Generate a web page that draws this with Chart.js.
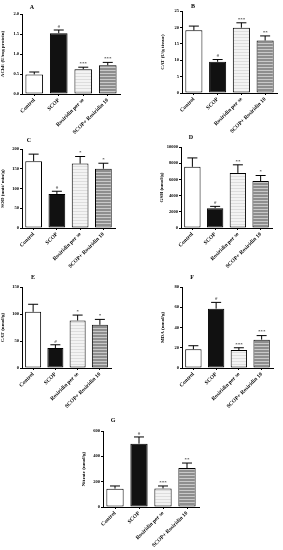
<!DOCTYPE html>
<html>
<head>
<meta charset="utf-8">
<script src="https://cdn.jsdelivr.net/npm/chart.js@4/dist/chart.umd.min.js"></script>
<style>
  html, body { margin: 0; padding: 0; background: #fff; }
  body { width: 283px; height: 550px; position: relative; overflow: hidden; }
  canvas { position: absolute; }
  .letter { position: absolute; font: bold 6px 'Liberation Serif', serif; transform: translate(-50%, -50%); }
</style>
</head>
<body>
<script>
// group names on the x axis (same for every panel)
const groups = ['Control', 'SCOP', 'Rosiridin per se', 'SCOP+ Rosiridin 10'];

// A - AChE
const acheMean = [0.49, 1.52, 0.62, 0.72];
const acheErr = [0.06, 0.08, 0.05, 0.07];
const acheMarks = ['', '#', '***', '***'];
const acheTicks = [0, 0.5, 1.0, 1.5, 2.0];

// B - CAT (tissue)
const catMean = [19.1, 9.5, 19.9, 16.0];
const catErr = [1.3, 0.7, 1.5, 1.4];
const catMarks = ['', '#', '***', '**'];
const catTicks = [0, 5, 10, 15, 20, 25];

// C - SOD
const sodMean = [169, 86, 163, 150];
const sodErr = [18, 7, 18, 14];
const sodMarks = ['', '#', '*', '*'];
const sodTicks = [0, 50, 100, 150, 200];

// D - GSH
const gshMean = [7550, 2450, 6800, 5800];
const gshErr = [1100, 220, 1000, 680];
const gshMarks = ['', '#', '**', '*'];
const gshTicks = [0, 2000, 4000, 6000, 8000, 10000];

// E - CAT (nmol)
const cat2Mean = [104, 37, 88, 80];
const cat2Err = [14, 6, 10, 10];
const cat2Marks = ['', '#', '*', '*'];
const cat2Ticks = [0, 50, 100, 150];

// F - MDA
const mdaMean = [18.5, 58.6, 17.8, 28];
const mdaErr = [3.5, 6.2, 2.2, 4];
const mdaMarks = ['', '#', '***', '***'];
const mdaTicks = [0, 20, 40, 60, 80];

// G - Nitrate
const nitMean = [145, 500, 147, 308];
const nitErr = [21, 53, 19, 39];
const nitMarks = ['', '#', '***', '**'];
const nitTicks = [0, 200, 400, 600];

const FONT = "'Liberation Serif', serif";

function makePattern(bg, line, step) {
  const c = document.createElement('canvas');
  c.width = 4; c.height = step;
  const g = c.getContext('2d');
  g.fillStyle = bg; g.fillRect(0, 0, 4, step);
  g.fillStyle = line; g.fillRect(0, 0, 4, 1);
  return g.createPattern(c, 'repeat');
}

// plugin: error bars + significance marks
const errorBars = {
  id: 'errorBars',
  afterDatasetsDraw(chart, args, opts) {
    const ctx = chart.ctx;
    const y = chart.scales.y;
    const meta = chart.getDatasetMeta(0);
    const vals = chart.data.datasets[0].data;
    ctx.save();
    ctx.strokeStyle = '#000';
    ctx.lineWidth = 1;
    ctx.fillStyle = '#000';
    ctx.font = '5px ' + FONT;
    ctx.textAlign = 'center';
    ctx.textBaseline = 'bottom';
    meta.data.forEach((bar, i) => {
      const top = y.getPixelForValue(vals[i] + opts.err[i]);
      ctx.beginPath();
      ctx.moveTo(bar.x, bar.y);
      ctx.lineTo(bar.x, top);
      ctx.moveTo(bar.x - 5, top);
      ctx.lineTo(bar.x + 5, top);
      ctx.stroke();
      if (opts.marks[i]) ctx.fillText(opts.marks[i], bar.x, top - 1);
    });
    ctx.restore();
  }
};

const panels = [
  { letter: 'A', lx: 32, ly: 7, title: 'AChE (U/mg protein)', mean: acheMean, err: acheErr, marks: acheMarks, ticks: acheTicks, dec: 1, area: [22, 14, 120, 94] },
  { letter: 'B', lx: 193, ly: 6, title: 'CAT (U/g tissue)', mean: catMean, err: catErr, marks: catMarks, ticks: catTicks, dec: 0, area: [182, 11, 277, 93] },
  { letter: 'C', lx: 29, ly: 140, title: 'SOD (unit/ min/g)', mean: sodMean, err: sodErr, marks: sodMarks, ticks: sodTicks, dec: 0, area: [22, 149, 115, 228] },
  { letter: 'D', lx: 191, ly: 137, title: 'GSH (nmol/g)', mean: gshMean, err: gshErr, marks: gshMarks, ticks: gshTicks, dec: 0, area: [181, 147, 272, 228] },
  { letter: 'E', lx: 33, ly: 277, title: 'CAT (nmol/g)', mean: cat2Mean, err: cat2Err, marks: cat2Marks, ticks: cat2Ticks, dec: 0, area: [22, 287, 111, 368] },
  { letter: 'F', lx: 192, ly: 277, title: 'MDA (nmol/g)', mean: mdaMean, err: mdaErr, marks: mdaMarks, ticks: mdaTicks, dec: 0, area: [182, 287, 273, 368] },
  { letter: 'G', lx: 113, ly: 420, title: 'Nitrate (nmol/g)', mean: nitMean, err: nitErr, marks: nitMarks, ticks: nitTicks, dec: 0, area: [103, 431, 199, 507] }
];

const Y_W = 22, X_H = 42, PAD_T = 10, PAD_R = 6;

panels.forEach(p => {
  const [l, t, r, b] = p.area;
  const cv = document.createElement('canvas');
  const left = l - Y_W, top = t - PAD_T;
  const w = r - left + PAD_R, h = b - top + X_H;
  cv.width = w; cv.height = h;
  cv.style.left = left + 'px'; cv.style.top = top + 'px';
  cv.style.width = w + 'px'; cv.style.height = h + 'px';
  document.body.appendChild(cv);

  const lab = document.createElement('div');
  lab.className = 'letter';
  lab.textContent = p.letter;
  lab.style.left = p.lx + 'px'; lab.style.top = p.ly + 'px';
  document.body.appendChild(lab);

  const fills = ['#ffffff', '#111111', makePattern('#f3f3f3', '#dddddd', 3), makePattern('#8e8e8e', '#c9c9c9', 3)];

  new Chart(cv.getContext('2d'), {
    type: 'bar',
    data: {
      labels: groups,
      datasets: [{
        data: p.mean,
        backgroundColor: fills,
        borderColor: '#000',
        borderWidth: 1,
        borderSkipped: false,
        barPercentage: 0.72,
        categoryPercentage: 1
      }]
    },
    options: {
      responsive: false,
      animation: false,
      events: [],
      layout: { padding: { top: PAD_T, right: PAD_R, left: 0, bottom: 0 } },
      plugins: {
        legend: { display: false },
        tooltip: { enabled: false },
        errorBars: { err: p.err, marks: p.marks }
      },
      scales: {
        x: {
          afterFit: s => { s.height = X_H; },
          grid: { display: true, drawOnChartArea: false, offset: false, tickLength: 2, color: '#000' },
          border: { display: true, color: '#000', width: 1 },
          ticks: {
            color: '#000', minRotation: 45, maxRotation: 45, padding: 1, autoSkip: false,
            font: { family: FONT, size: 5.5, weight: 'bold' }
          }
        },
        y: {
          min: p.ticks[0],
          max: p.ticks[p.ticks.length - 1],
          afterFit: s => { s.width = Y_W; },
          afterBuildTicks: s => { s.ticks = p.ticks.map(v => ({ value: v })); },
          grid: { display: true, drawOnChartArea: false, tickLength: 2, color: '#000' },
          border: { display: true, color: '#000', width: 1 },
          ticks: {
            color: '#000', padding: 1, font: { family: FONT, size: 4.5, weight: 'bold' },
            callback: v => Number(v).toFixed(p.dec)
          },
          title: {
            display: true, text: p.title, color: '#000', padding: { top: 0, bottom: 1 },
            font: { family: FONT, size: 5, weight: 'bold' }
          }
        }
      }
    },
    plugins: [errorBars]
  });
});
</script>
</body>
</html>
